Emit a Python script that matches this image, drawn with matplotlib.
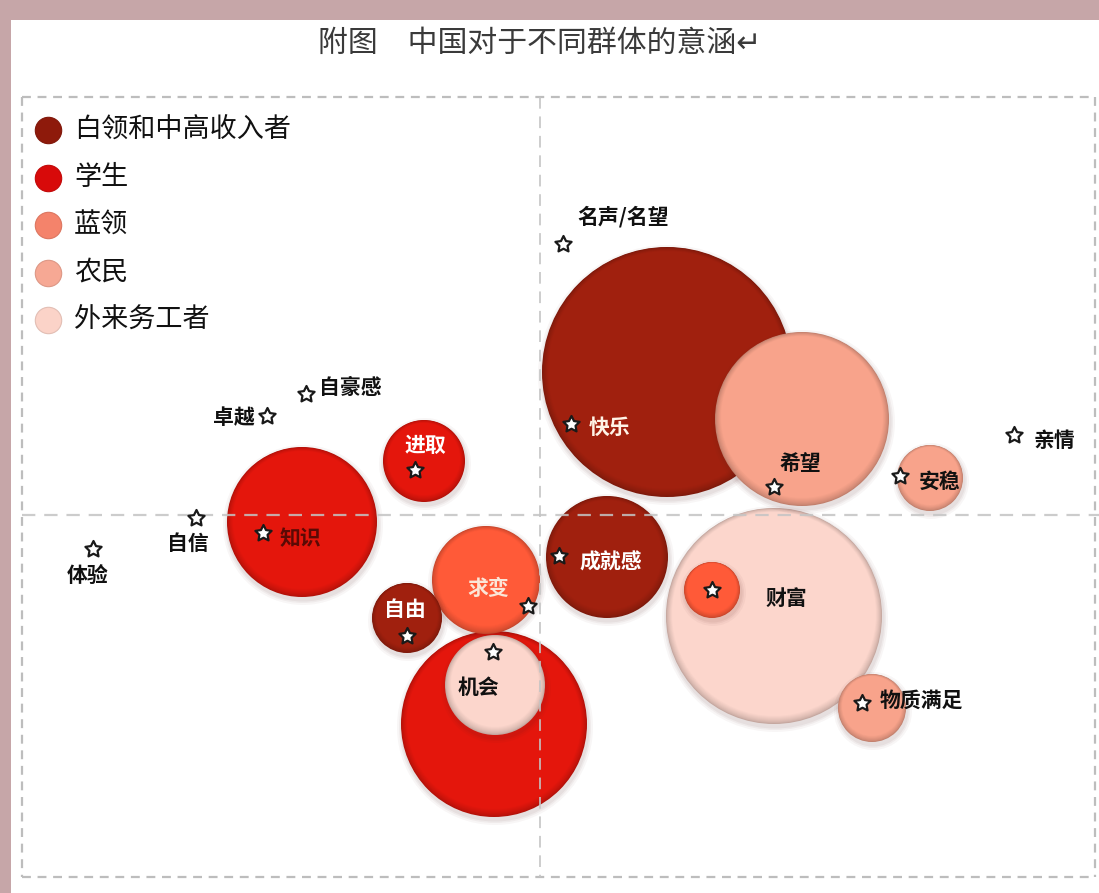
import matplotlib
matplotlib.use("Agg")
import matplotlib.pyplot as plt
from matplotlib.patches import Circle, Rectangle

plt.rcParams['font.family'] = ['Noto Sans CJK SC', 'DejaVu Sans']

# ---------------- data ----------------
title = "附图　中国对于不同群体的意涵↵"
groups = ["白领和中高收入者", "学生", "蓝领", "农民", "外来务工者"]
group_colors = ["#A0200E", "#E4160C", "#FF5A38", "#F8A38B", "#FCD6CC"]
legend_colors = ["#8E1A0B", "#D80A0A", "#F4836B", "#F6A894", "#FBD3C8"]

# bubbles (position on the concept map, radius, group index)
bubble_names = ["快乐", "希望", "安稳", "知识", "进取", "求变", "自由", "成就感",
                "机会(学生)", "机会(外来务工者)", "财富(外来务工者)", "财富(蓝领)", "物质满足"]
bubble_x = [667, 802, 930, 302, 424, 486, 407, 607, 494, 495, 774, 712, 872]
bubble_y = [372, 419, 478, 522, 461, 580, 618, 557, 724, 685, 616, 590, 708]
bubble_r = [125, 87, 33, 75, 41, 54, 35, 61, 93, 50, 108, 28, 34]
bubble_group = [0, 3, 3, 1, 1, 2, 0, 0, 1, 4, 4, 2, 3]

# concepts (star markers with labels)
concepts = ["名声/名望", "快乐", "希望", "安稳", "亲情", "自豪感", "卓越", "进取", "自信",
            "体验", "知识", "自由", "求变", "机会", "成就感", "财富", "物质满足"]
concept_x = [563, 571, 774, 900, 1014, 306, 267, 415, 196, 93, 263, 407, 528, 493, 559, 712, 862]
concept_y = [244, 424, 487, 476, 435, 394, 416, 470, 518, 549, 533, 636, 606, 652, 556, 590, 703]

# quadrant divider values
split_x = 540
split_y = 515

# ---------------- styling ----------------
label_style = {
    "名声/名望": dict(dx=14, dy=-27, ha="left", color="#111111"),
    "快乐": dict(dx=18, dy=3, ha="left", color="#FFF3E6"),
    "希望": dict(dx=6, dy=-24, ha="left", color="#111111"),
    "安稳": dict(dx=19, dy=5, ha="left", color="#111111"),
    "亲情": dict(dx=20, dy=5, ha="left", color="#111111"),
    "自豪感": dict(dx=13, dy=-7, ha="left", color="#111111"),
    "卓越": dict(dx=-12, dy=1, ha="right", color="#111111"),
    "进取": dict(dx=10, dy=-25, ha="center", color="#FFFFFF"),
    "自信": dict(dx=-8, dy=25, ha="center", color="#111111"),
    "体验": dict(dx=-5, dy=26, ha="center", color="#111111"),
    "知识": dict(dx=17, dy=6, ha="left", color="#5A0A05"),
    "自由": dict(dx=-2, dy=-26, ha="center", color="#FFFFFF"),
    "求变": dict(dx=-40, dy=-18, ha="center", color="#FBE6D8"),
    "机会": dict(dx=-15, dy=36, ha="center", color="#111111"),
    "成就感": dict(dx=20, dy=6, ha="left", color="#FFFFFF"),
    "财富": dict(dx=53, dy=8, ha="left", color="#111111"),
    "物质满足": dict(dx=18, dy=-3, ha="left", color="#111111"),
}


def mix(c1, c2, t):
    a = matplotlib.colors.to_rgb(c1)
    b = matplotlib.colors.to_rgb(c2)
    return tuple(a[k] * (1 - t) + b[k] * t for k in range(3))


W, H = 1099, 893
fig = plt.figure(figsize=(W / 100, H / 100), dpi=100)
fig.patch.set_facecolor("#C6A6A8")
ax = fig.add_axes([0, 0, 1, 1])
ax.set_xlim(0, W)
ax.set_ylim(H, 0)
ax.set_aspect("equal")
ax.axis("off")

# white page
ax.add_patch(Rectangle((11, 20), W - 11, H - 20, facecolor="white", edgecolor="none", zorder=0))

# dashed frame
frame_l, frame_t, frame_r, frame_b = 22, 97, 1095, 877
dash = (0, (4, 3))
for xs, ys in [([frame_l, frame_r], [frame_t, frame_t]), ([frame_l, frame_r], [frame_b, frame_b]),
               ([frame_l, frame_l], [frame_t, frame_b]), ([frame_r, frame_r], [frame_t, frame_b])]:
    ax.plot(xs, ys, color="#BDBDBD", lw=1.6, linestyle=dash, zorder=1)

# bubbles, largest first
order = sorted(range(len(bubble_r)), key=lambda i: -bubble_r[i])
steps = 8
for k, i in enumerate(order):
    c = group_colors[bubble_group[i]]
    r = bubble_r[i]
    z = 2 + k * 0.1
    # soft shadow
    for s, a in [(5, 0.04), (3, 0.05), (1.5, 0.06)]:
        ax.add_patch(Circle((bubble_x[i] + 1, bubble_y[i] + 3), r + s,
                            facecolor="#5A2020", alpha=a, edgecolor="none", zorder=z))
    # glossy bevel: darker rim blending to base colour
    edge = mix(c, "#000000", 0.22)
    for s in range(steps + 1):
        t = s / steps
        rr = r - s * min(6.0, r * 0.12) / steps
        col = mix(edge, c, t ** 0.7)
        ax.add_patch(Circle((bubble_x[i], bubble_y[i] - s * 0.25), rr, facecolor=col,
                            edgecolor="none", zorder=z + 0.001 * (s + 1)))

# quadrant dashed lines (over bubbles)
ax.plot([split_x, split_x], [frame_t, frame_b], color="#C4C4C4", lw=1.4, linestyle=(0, (6, 4)),
        alpha=0.85, zorder=5)
ax.plot([frame_l, W], [split_y, split_y], color="#C4C4C4", lw=1.6, linestyle=(0, (6, 4)),
        alpha=0.85, zorder=5)

# stars and labels
ax.scatter(concept_x, concept_y, marker=(5, 1), s=150, facecolor="white",
           edgecolor="#1A1A1A", linewidths=1.6, zorder=6)
for name, x, y in zip(concepts, concept_x, concept_y):
    st = label_style[name]
    ax.text(x + st["dx"], y + st["dy"], name, ha=st["ha"], va="center",
            fontsize=15, color=st["color"], fontweight="bold", zorder=7)

# title
ax.text(540, 43, title, ha="center", va="center", fontsize=21.5, color="#3A3A3A",
        family=['Noto Sans CJK SC', 'DejaVu Sans'], zorder=7)

# legend
leg_y0, leg_dy = 130, 47.5
for j, (g, c) in enumerate(zip(groups, legend_colors)):
    yy = leg_y0 + j * leg_dy
    ax.plot([48], [yy], marker="o", ms=19, color=c, mec=mix(c, "#000000", 0.1), mew=0.8, zorder=7)
    ax.text(74, yy, g, ha="left", va="center", fontsize=19.5, color="#111111",
            fontweight="medium", zorder=7)

fig.savefig("out.png", dpi=100, facecolor=fig.get_facecolor())
